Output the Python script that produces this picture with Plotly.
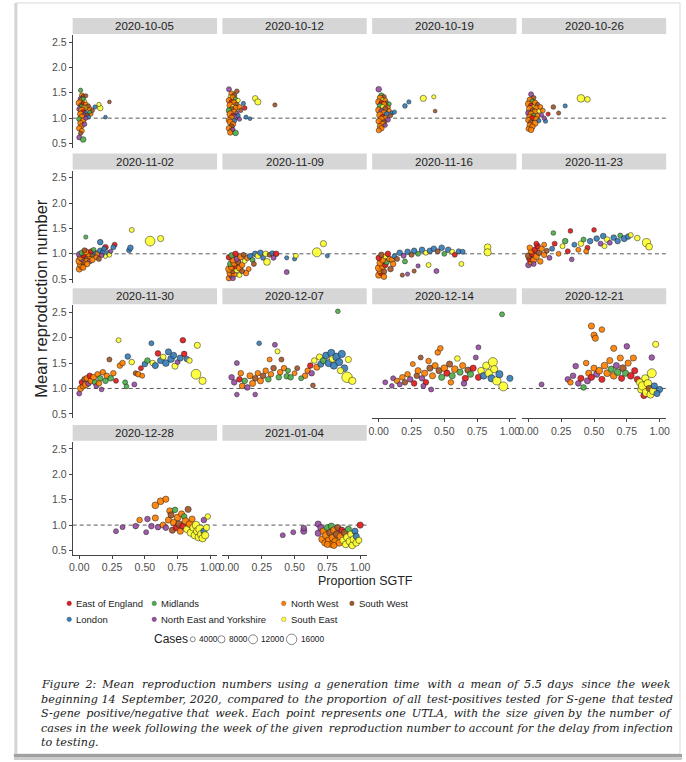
import math
import plotly.graph_objects as go

W, H = 686, 762
SANS = "Liberation Sans, Arial, sans-serif"
SERIF = "DejaVu Serif, serif"

# ---------------- data ----------------
weeks = ["2020-10-05", "2020-10-12", "2020-10-19", "2020-10-26",
         "2020-11-02", "2020-11-09", "2020-11-16", "2020-11-23",
         "2020-11-30", "2020-12-07", "2020-12-14", "2020-12-21",
         "2020-12-28", "2021-01-04"]

region_names = {"E": "East of England", "L": "London", "M": "Midlands",
                "N": "North East and Yorkshire", "W": "North West",
                "S": "South East", "B": "South West"}
region_colors = {"E": "#E41A1C", "L": "#377EB8", "M": "#4DAF4A", "N": "#984EA3",
                 "W": "#FF7F00", "S": "#FFFF33", "B": "#A65628"}

size_breaks = [4000, 8000, 12000, 16000]
x_tick_vals = [0.0, 0.25, 0.5, 0.75, 1.0]
x_tick_text = ["0.00", "0.25", "0.50", "0.75", "1.00"]
y_tick_vals = [0.5, 1.0, 1.5, 2.0, 2.5]
y_tick_text = ["0.5", "1.0", "1.5", "2.0", "2.5"]

# each point: (proportion SGTF, mean R, region code, cases in thousands)
w1005 = [(0.01,1.55,"M",3),(0.02,1.45,"W",4),(0.03,1.42,"B",3.6),(0.05,1.44,"B",3),(0.01,1.38,"N",4),
         (0.02,1.35,"W",5),(0.04,1.33,"S",3),(0.00,1.30,"W",6),(0.03,1.28,"E",4),(0.05,1.27,"W",4),
         (0.01,1.25,"B",3),(0.02,1.22,"M",5),(0.04,1.20,"W",6),(0.06,1.22,"S",3),(0.08,1.18,"W",4),
         (0.07,1.24,"B",3),(0.00,1.18,"N",4),(0.02,1.15,"W",7),(0.03,1.12,"E",4),(0.05,1.10,"L",3),
         (0.01,1.08,"W",6),(0.04,1.05,"N",5),(0.06,1.06,"B",3),(0.09,1.08,"W",3),(0.02,1.02,"W",6),
         (0.00,0.98,"M",4),(0.03,0.95,"W",5),(0.01,0.90,"W",5),(0.02,0.85,"W",4),(0.04,0.88,"N",3.6),
         (0.00,0.80,"W",5),(0.02,0.75,"W",4),(0.01,0.70,"B",3),(0.00,0.62,"N",4),(0.03,0.58,"M",5),
         (0.12,1.22,"L",3),(0.16,1.20,"S",5),(0.15,1.27,"S",3),(0.20,1.02,"L",2.4),(0.23,1.32,"B",2.4),
         (0.10,1.15,"B",3),(0.07,1.02,"L",3),(0.05,1.00,"N",3),(0.08,1.12,"M",2.4),(0.03,1.38,"M",3)]
w1012 = [(0.00,1.57,"N",4),(0.06,1.53,"B",3.6),(0.02,1.48,"W",5),(0.04,1.45,"B",4),(0.01,1.42,"S",3),
         (0.03,1.40,"W",6),(0.05,1.38,"M",3),(0.00,1.35,"W",5),(0.02,1.32,"E",4),(0.04,1.30,"W",6),
         (0.06,1.28,"B",3),(0.01,1.25,"W",7),(0.03,1.22,"S",4),(0.05,1.20,"W",5),(0.08,1.22,"W",4),
         (0.02,1.18,"B",4),(0.00,1.15,"M",5),(0.04,1.12,"W",6),(0.06,1.10,"N",3),(0.01,1.08,"W",7),
         (0.03,1.05,"E",4),(0.05,1.02,"N",5),(0.02,1.00,"W",6),(0.00,0.96,"W",5),(0.04,0.95,"L",4),
         (0.01,0.92,"W",6),(0.03,0.88,"W",5),(0.02,0.84,"B",4),(0.00,0.80,"W",5),(0.02,0.76,"W",4),
         (0.01,0.72,"W",5),(0.05,0.71,"M",5),(0.03,0.78,"N",3),(0.07,1.35,"S",3),(0.11,1.29,"L",3),
         (0.12,1.20,"E",3.6),(0.13,1.02,"L",3),(0.16,0.99,"L",2.4),(0.20,1.39,"S",5),(0.22,1.32,"S",6),
         (0.35,1.26,"B",3),(0.09,1.15,"B",3),(0.07,1.05,"L",3),(0.08,0.98,"N",3)]
w1019 = [(0.00,1.57,"N",5),(0.02,1.45,"M",4),(0.04,1.42,"B",3.6),(0.01,1.40,"W",5),(0.03,1.36,"S",3),
         (0.05,1.35,"W",4),(0.00,1.32,"W",6),(0.02,1.30,"E",4),(0.06,1.30,"B",3),(0.04,1.27,"W",5),
         (0.01,1.24,"M",5),(0.03,1.22,"S",4),(0.07,1.22,"W",4),(0.05,1.18,"B",5),(0.00,1.16,"W",6),
         (0.02,1.14,"N",4),(0.08,1.15,"W",3),(0.04,1.10,"W",6),(0.06,1.08,"L",4),(0.10,1.10,"L",3),
         (0.01,1.06,"W",7),(0.03,1.02,"E",5),(0.05,1.00,"W",5),(0.02,0.98,"W",6),(0.07,0.97,"N",4),
         (0.00,0.94,"W",5),(0.04,0.92,"B",4),(0.03,0.88,"W",6),(0.01,0.84,"W",5),(0.05,0.86,"N",3),
         (0.02,0.80,"W",5),(0.00,0.76,"W",4),(0.09,1.05,"B",3),(0.12,1.12,"L",3),(0.20,1.24,"L",3.6),
         (0.23,1.32,"L",3),(0.34,1.39,"S",6),(0.42,1.42,"S",3),(0.43,1.14,"B",2.4),(0.08,1.28,"M",3)]
w1026 = [(0.02,1.47,"N",4),(0.04,1.40,"B",3.6),(0.01,1.36,"W",5),(0.03,1.33,"M",4),(0.05,1.30,"W",5),
         (0.00,1.28,"W",6),(0.07,1.27,"B",3),(0.02,1.25,"E",4),(0.04,1.22,"S",3),(0.06,1.20,"W",5),
         (0.09,1.22,"W",4),(0.01,1.18,"W",7),(0.03,1.15,"B",4),(0.05,1.12,"W",6),(0.08,1.14,"S",3),
         (0.11,1.15,"W",3.6),(0.00,1.10,"N",5),(0.02,1.08,"W",6),(0.04,1.05,"M",4),(0.07,1.05,"W",4),
         (0.10,1.06,"N",3),(0.01,1.02,"W",6),(0.03,1.00,"E",5),(0.06,0.98,"W",5),(0.00,0.96,"W",5),
         (0.02,0.92,"B",4),(0.05,0.90,"W",6),(0.01,0.86,"W",5),(0.03,0.83,"W",5),(0.00,0.79,"W",4),
         (0.02,0.77,"W",5),(0.08,0.95,"L",3),(0.13,0.94,"L",3),(0.15,1.08,"E",3),(0.19,1.22,"B",3.6),
         (0.23,1.10,"B",3),(0.28,1.24,"L",3),(0.40,1.39,"S",9),(0.45,1.37,"S",5),(0.12,1.00,"N",3)]
w1102 = [(0.00,0.70,"W",6),(0.02,0.75,"W",6),(0.01,0.80,"W",7),(0.03,0.83,"B",5),(0.00,0.86,"W",7),
         (0.04,0.88,"W",6),(0.02,0.90,"N",5),(0.06,0.90,"W",6),(0.01,0.94,"W",7),(0.05,0.95,"B",4),
         (0.03,0.97,"E",5),(0.08,0.95,"W",5),(0.00,0.99,"N",5),(0.07,1.00,"W",6),(0.10,0.98,"B",4),
         (0.02,1.02,"M",5),(0.05,1.04,"W",6),(0.12,1.02,"L",4),(0.09,1.05,"E",4),(0.14,1.00,"W",4),
         (0.04,1.07,"B",4),(0.11,1.08,"M",3.6),(0.16,1.06,"L",5),(0.18,1.03,"L",4),(0.13,0.93,"W",4),
         (0.08,0.85,"N",4),(0.20,0.95,"S",3),(0.17,0.97,"N",3.6),(0.22,1.02,"L",3.6),(0.06,0.80,"W",5),
         (0.10,0.88,"W",5),(0.15,0.90,"B",4),(0.05,1.33,"M",3),(0.16,1.23,"L",5),(0.20,1.13,"E",5),
         (0.27,1.18,"E",4),(0.26,1.13,"L",4),(0.19,1.10,"L",4),(0.38,1.07,"L",4),(0.39,1.12,"L",5),
         (0.40,1.47,"S",4),(0.54,1.25,"S",14),(0.62,1.30,"S",6),(0.23,0.98,"S",3.6),(0.24,1.05,"N",3),
         (0.03,0.73,"W",5)]
w1109 = [(0.00,0.52,"W",5),(0.02,0.57,"N",5),(0.01,0.62,"W",7),(0.04,0.60,"W",6),(0.03,0.66,"B",5),
         (0.00,0.70,"W",7),(0.06,0.68,"S",5),(0.02,0.74,"W",6),(0.05,0.76,"E",5),(0.08,0.72,"W",6),
         (0.01,0.80,"M",5),(0.04,0.82,"W",7),(0.07,0.84,"B",5),(0.10,0.78,"W",5),(0.03,0.88,"W",6),
         (0.06,0.90,"N",5),(0.12,0.86,"S",4),(0.00,0.93,"E",5),(0.09,0.94,"W",6),(0.02,0.97,"M",5),
         (0.05,1.00,"E",5),(0.14,0.92,"W",5),(0.11,0.98,"B",4),(0.16,0.95,"L",5),(0.18,0.88,"M",4),
         (0.20,1.00,"L",5),(0.22,0.96,"S",5),(0.24,1.02,"L",5),(0.26,0.92,"L",4),(0.28,1.00,"S",5),
         (0.29,0.84,"S",7),(0.31,0.98,"B",4),(0.33,1.01,"L",4),(0.36,1.00,"E",5),(0.34,0.92,"N",4),
         (0.15,0.70,"W",4),(0.13,0.62,"W",5),(0.08,0.58,"S",4),(0.19,0.80,"B",4),(0.44,0.64,"N",4),
         (0.44,0.92,"L",3),(0.50,0.90,"L",3),(0.51,0.96,"S",4),(0.67,1.03,"S",12),(0.72,1.20,"S",6),
         (0.75,0.96,"L",3),(0.10,0.66,"B",4),(0.03,0.52,"N",4)]
w1116 = [(0.00,0.58,"W",6),(0.02,0.62,"E",5),(0.01,0.67,"W",6),(0.04,0.65,"B",5),(0.00,0.72,"W",7),
         (0.03,0.75,"W",6),(0.05,0.78,"E",5),(0.01,0.82,"W",6),(0.06,0.84,"M",5),(0.03,0.88,"W",6),
         (0.08,0.90,"W",5),(0.00,0.92,"E",5),(0.05,0.95,"S",4),(0.02,0.98,"B",5),(0.07,1.00,"E",5),
         (0.10,0.88,"W",5),(0.12,0.95,"L",4),(0.11,0.80,"W",5),(0.14,0.90,"B",4),(0.16,1.02,"L",5),
         (0.19,0.96,"N",4),(0.22,1.04,"L",5),(0.25,0.98,"B",4),(0.27,1.06,"L",5),(0.30,1.00,"M",4),
         (0.33,1.08,"L",5),(0.36,1.02,"S",4),(0.39,1.06,"L",5),(0.42,1.10,"L",5),(0.45,1.05,"B",4),
         (0.48,1.12,"L",5),(0.50,1.00,"M",4),(0.53,1.08,"L",5),(0.56,1.04,"S",4),(0.58,0.98,"E",4),
         (0.61,1.05,"L",4),(0.64,1.04,"L",4),(0.63,0.80,"S",4),(0.44,0.66,"N",4),(0.38,0.78,"S",4),
         (0.30,0.76,"N",3),(0.27,0.66,"B",3),(0.18,0.58,"B",3),(0.22,0.60,"N",3),(0.83,1.13,"S",7),
         (0.83,1.03,"S",8),(0.09,0.70,"B",5),(0.04,0.55,"W",5),(0.20,0.85,"M",4)]
w1123 = [(0.00,0.78,"N",5),(0.02,0.84,"W",6),(0.01,0.90,"E",6),(0.04,0.88,"W",6),(0.00,0.96,"B",6),
         (0.03,1.00,"E",6),(0.06,0.95,"W",6),(0.02,1.05,"W",5),(0.05,1.08,"E",5),(0.08,1.02,"B",5),
         (0.01,1.12,"W",5),(0.07,1.15,"E",5),(0.10,1.10,"W",5),(0.12,0.98,"W",5),(0.14,1.06,"B",4),
         (0.04,0.80,"N",4),(0.09,0.85,"W",5),(0.16,0.92,"N",4),(0.19,1.41,"M",3.6),(0.18,1.10,"L",4),
         (0.20,1.20,"E",4),(0.23,1.00,"W",4),(0.26,1.15,"S",4),(0.28,1.25,"M",5),(0.30,1.05,"E",4),
         (0.32,1.45,"E",3.6),(0.33,0.89,"N",3.6),(0.35,1.18,"L",4),(0.38,1.08,"W",4),(0.40,1.20,"S",5),
         (0.42,1.28,"M",4),(0.45,1.12,"E",4),(0.47,1.25,"L",5),(0.50,1.47,"E",3.6),(0.52,1.30,"L",5),
         (0.55,1.20,"N",4),(0.57,1.35,"L",5),(0.60,1.28,"S",5),(0.62,1.22,"N",4),(0.65,1.32,"L",5),
         (0.68,1.25,"L",5),(0.70,1.36,"M",4),(0.73,1.30,"L",6),(0.76,1.34,"L",5),(0.78,1.37,"S",4),
         (0.83,1.31,"S",5),(0.90,1.22,"S",10),(0.92,1.14,"S",7),(0.58,1.15,"S",4),(0.44,1.05,"W",4),
         (0.12,1.18,"W",4),(0.06,1.20,"E",4)]
w1130 = [(0.00,0.90,"N",4),(0.01,1.00,"W",6),(0.03,1.05,"W",6),(0.02,1.12,"E",5),(0.05,1.08,"W",7),
         (0.04,1.18,"B",5),(0.07,1.10,"N",5),(0.06,1.20,"W",6),(0.09,1.15,"W",6),(0.08,1.25,"E",5),
         (0.11,1.22,"W",6),(0.12,1.12,"M",5),(0.14,1.28,"W",5),(0.13,1.05,"N",4),(0.16,1.20,"M",5),
         (0.17,0.98,"N",3.6),(0.18,1.32,"W",5),(0.20,1.15,"M",5),(0.21,1.25,"W",5),(0.23,1.57,"B",4),
         (0.24,1.20,"M",5),(0.26,1.30,"W",5),(0.28,1.15,"E",4),(0.30,1.95,"S",4),(0.31,1.45,"W",5),
         (0.33,1.50,"W",5),(0.35,1.12,"M",4),(0.36,1.04,"M",3.6),(0.37,1.63,"L",5),(0.40,1.52,"S",5),
         (0.42,1.08,"N",4),(0.43,1.30,"B",4),(0.45,1.28,"W",5),(0.47,1.40,"E",4),(0.50,1.48,"L",5),
         (0.52,1.55,"M",5),(0.55,1.89,"L",4),(0.56,1.50,"S",5),(0.58,1.45,"L",6),(0.60,1.69,"E",5),
         (0.62,1.55,"L",6),(0.64,1.62,"S",5),(0.66,1.50,"L",7),(0.68,1.72,"L",6),(0.70,1.58,"L",7),
         (0.72,1.65,"L",6),(0.73,1.44,"S",6),(0.75,1.52,"N",4),(0.77,1.60,"L",6),(0.79,1.95,"E",5),
         (0.80,1.68,"E",5),(0.82,1.58,"L",5),(0.84,1.55,"S",5),(0.90,1.85,"S",6),(0.89,1.28,"S",14),
         (0.94,1.15,"S",8),(0.48,1.25,"W",4),(0.15,1.10,"W",5)]
w1207 = [(0.06,1.50,"N",4),(0.06,0.88,"N",3.6),(0.02,1.22,"N",5),(0.04,1.12,"N",5),(0.08,1.18,"E",5),
         (0.10,1.05,"W",5),(0.12,1.15,"M",5),(0.14,1.02,"N",5),(0.16,1.25,"W",6),(0.18,1.10,"W",6),
         (0.20,0.88,"N",3.6),(0.20,1.20,"B",5),(0.22,1.30,"W",5),(0.23,1.89,"L",3.6),(0.24,1.15,"W",6),
         (0.26,1.25,"B",5),(0.28,1.35,"W",5),(0.30,1.18,"M",5),(0.31,1.57,"W",4),(0.32,1.28,"W",5),
         (0.34,1.40,"B",5),(0.35,1.86,"N",4),(0.37,1.73,"S",4),(0.38,1.22,"M",5),(0.39,1.32,"W",5),
         (0.40,1.57,"B",4),(0.42,1.40,"W",5),(0.44,1.24,"M",5),(0.45,1.35,"M",4),(0.47,1.22,"M",5),
         (0.50,1.30,"W",4),(0.52,1.40,"B",4),(0.60,1.35,"W",5),(0.62,1.45,"E",5),(0.64,1.06,"B",3.6),
         (0.63,1.30,"N",5),(0.65,1.55,"S",5),(0.67,1.42,"W",6),(0.69,1.62,"S",6),(0.70,1.48,"L",6),
         (0.72,1.55,"M",6),(0.74,1.65,"L",7),(0.76,1.50,"L",8),(0.78,1.70,"L",8),(0.79,1.58,"S",7),
         (0.80,1.45,"L",8),(0.82,1.62,"L",9),(0.83,2.52,"M",3.6),(0.84,1.52,"L",8),(0.86,1.68,"L",8),
         (0.88,1.40,"L",7),(0.90,1.22,"S",16),(0.91,1.57,"S",6),(0.94,1.15,"S",8),(0.85,1.35,"S",6),
         (0.58,1.25,"W",5),(0.55,1.20,"M",4),(0.09,1.30,"W",5)]
w1214 = [(0.05,1.12,"N",4),(0.10,1.05,"N",3.6),(0.11,1.20,"N",4),(0.14,1.15,"W",5),(0.16,1.08,"N",4),
         (0.18,1.22,"W",5),(0.20,1.12,"B",5),(0.22,1.28,"W",5),(0.24,1.18,"N",5),(0.26,1.48,"W",4),
         (0.27,1.10,"E",5),(0.29,1.25,"B",5),(0.30,1.35,"W",6),(0.32,1.61,"B",4),(0.33,1.20,"N",5),
         (0.35,1.30,"W",6),(0.36,1.12,"E",5),(0.38,1.54,"W",5),(0.39,1.40,"B",6),(0.40,0.98,"N",4),
         (0.41,1.25,"W",6),(0.43,1.45,"W",6),(0.45,1.71,"W",5),(0.46,1.35,"B",6),(0.47,1.79,"W",5),
         (0.48,1.22,"M",6),(0.50,1.40,"W",7),(0.52,1.30,"E",6),(0.54,1.48,"B",6),(0.56,1.25,"M",6),
         (0.58,1.38,"W",7),(0.60,1.59,"S",5),(0.62,1.32,"M",6),(0.64,1.45,"W",6),(0.66,1.20,"E",6),
         (0.68,1.36,"B",6),(0.70,1.28,"M",6),(0.72,1.40,"E",6),(0.74,1.61,"N",4),(0.76,1.81,"N",4),
         (0.76,1.22,"E",6),(0.78,1.35,"S",7),(0.80,1.25,"L",7),(0.82,1.45,"S",8),(0.84,1.30,"S",9),
         (0.86,1.20,"L",8),(0.87,1.52,"S",12),(0.88,1.38,"S",8),(0.90,1.15,"S",10),(0.92,1.28,"L",8),
         (0.94,2.46,"M",4),(0.95,1.04,"S",12),(1.00,1.20,"L",6),(0.55,1.12,"W",5),(0.65,1.10,"N",5),
         (0.34,1.05,"N",4)]
w1221 = [(0.10,1.08,"N",4),(0.30,1.18,"N",5),(0.32,1.12,"W",5),(0.34,1.25,"N",5),(0.36,1.44,"N",5),
         (0.38,1.10,"N",5),(0.40,1.20,"E",6),(0.42,1.02,"M",5),(0.44,1.50,"W",5),(0.45,1.15,"N",6),
         (0.46,1.30,"W",6),(0.48,2.23,"W",6),(0.48,1.22,"E",6),(0.50,2.05,"W",6),(0.51,1.99,"W",6),
         (0.50,1.40,"W",6),(0.52,1.28,"N",6),(0.54,1.35,"W",7),(0.56,2.16,"W",5),(0.56,1.18,"E",6),
         (0.58,1.45,"W",7),(0.60,1.30,"W",7),(0.62,1.55,"W",6),(0.63,1.38,"M",6),(0.65,1.79,"W",6),
         (0.65,1.25,"W",7),(0.67,1.45,"N",6),(0.68,1.32,"M",7),(0.70,1.60,"W",6),(0.71,1.20,"E",6),
         (0.72,1.40,"B",7),(0.74,1.30,"M",6),(0.75,1.83,"N",5),(0.76,1.50,"W",6),(0.78,1.25,"E",7),
         (0.80,1.60,"W",6),(0.81,1.35,"E",6),(0.83,1.18,"E",6),(0.85,1.12,"S",8),(0.86,0.98,"S",8),
         (0.87,1.05,"S",10),(0.88,0.86,"E",6),(0.89,1.20,"S",8),(0.90,0.92,"S",10),(0.91,1.10,"S",9),
         (0.92,1.00,"B",6),(0.93,0.88,"S",8),(0.94,1.61,"N",5),(0.94,1.30,"S",12),(0.95,0.95,"S",8),
         (0.97,1.87,"S",6),(0.96,1.05,"L",6),(1.00,0.98,"L",6),(0.98,0.90,"L",6)]
w1228 = [(0.28,0.88,"N",4),(0.33,0.96,"N",4),(0.43,0.98,"N",5),(0.46,1.10,"W",5),(0.51,0.86,"N",4),
         (0.52,1.12,"N",5),(0.55,0.98,"N",5),(0.58,1.39,"W",7),(0.58,1.14,"W",6),(0.60,0.96,"N",5),
         (0.62,1.47,"W",7),(0.64,1.00,"W",6),(0.66,1.51,"W",6),(0.66,0.95,"N",5),(0.68,1.10,"W",6),
         (0.69,1.28,"W",6),(0.70,1.20,"B",6),(0.71,0.90,"B",6),(0.72,1.05,"W",7),(0.73,1.30,"M",5),
         (0.74,0.95,"E",6),(0.75,1.15,"W",7),(0.76,1.02,"B",7),(0.77,0.88,"W",6),(0.78,1.22,"W",6),
         (0.79,0.98,"E",6),(0.80,1.17,"M",5),(0.81,1.08,"W",7),(0.82,0.92,"S",7),(0.83,1.31,"B",6),
         (0.84,1.02,"W",7),(0.85,0.85,"S",8),(0.86,1.12,"W",6),(0.87,0.95,"S",8),(0.88,0.80,"S",8),
         (0.89,1.00,"S",9),(0.90,0.88,"S",9),(0.91,0.76,"S",8),(0.92,0.92,"S",10),(0.93,0.82,"S",9),
         (0.94,0.74,"S",8),(0.95,0.88,"L",6),(0.95,1.10,"N",5),(0.96,0.80,"S",8),(0.98,1.17,"S",5),
         (0.97,0.95,"S",6)]
w0104 = [(0.41,0.80,"N",4),(0.49,0.86,"N",4),(0.57,0.88,"N",6),(0.57,0.94,"N",5),(0.68,1.02,"N",6),
         (0.68,0.84,"N",6),(0.70,0.95,"N",6),(0.71,0.72,"W",7),(0.72,0.88,"W",7),(0.73,0.65,"W",6),
         (0.74,0.80,"W",8),(0.75,0.95,"M",6),(0.76,0.70,"W",7),(0.77,0.85,"B",7),(0.78,0.62,"W",6),
         (0.78,0.98,"M",6),(0.79,0.75,"W",8),(0.80,0.90,"W",7),(0.81,0.68,"W",7),(0.82,0.82,"B",7),
         (0.83,0.95,"B",6),(0.84,0.65,"W",7),(0.85,0.78,"W",8),(0.86,0.90,"E",6),(0.87,0.70,"S",7),
         (0.88,0.85,"B",7),(0.89,0.62,"S",7),(0.90,0.76,"S",8),(0.91,0.92,"M",6),(0.92,0.68,"S",8),
         (0.93,0.82,"S",7),(0.94,0.60,"S",7),(0.95,0.72,"S",8),(0.96,0.88,"L",6),(0.97,0.65,"S",7),
         (0.97,0.78,"L",6),(1.00,1.00,"E",6),(0.99,0.70,"S",6),(0.75,0.62,"W",6),(0.80,0.60,"W",6)]

week_points = [w1005, w1012, w1019, w1026, w1102, w1109, w1116, w1123,
               w1130, w1207, w1214, w1221, w1228, w0104]

caption_lines = [
    "Figure 2: Mean reproduction numbers using a generation time with a mean of 5.5 days since the week",
    "beginning 14 September, 2020, compared to the proportion of all test-positives tested for S-gene that tested",
    "S-gene positive/negative that week. Each point represents one UTLA, with the size given by the number of",
    "cases in the week following the week of the given reproduction number to account for the delay from infection",
    "to testing.",
]

# ---------------- layout geometry (pixels) ----------------
COL_L = [69.5, 221.0, 372.5, 524.0]
PANEL_W = 146.0
ROW_T = [35.0, 171.0, 306.0, 443.0]
PANEL_H = 113.0
STRIP_H = 16.0
X_RANGE = [-0.05, 1.05]
Y_RANGE = [0.42, 2.64]
BOTTOM_PANELS = {10, 11, 12, 13}


def px(xp):
    return xp / W


def py(yp):
    return 1 - yp / H


def size_px(cases):
    return max(2.5, -0.5 + 0.0869 * math.sqrt(cases))


def justify(text, n_extra):
    """spread n_extra thin spaces over the word gaps of a caption line"""
    words = text.split(" ")
    gaps = len(words) - 1
    out = words[0]
    for k in range(gaps):
        e = round((k + 1) * n_extra / gaps) - round(k * n_extra / gaps)
        out += " " + "\u2009" * e + words[k + 1]
    return out


fig = go.Figure()
shapes = []
annotations = []
layout_axes = {}

for i, (label, pts) in enumerate(zip(weeks, week_points)):
    r, c = divmod(i, 4)
    n = "" if i == 0 else str(i + 1)
    xs = [p[0] for p in pts]
    ys = [p[1] for p in pts]
    cols = [region_colors[p[2]] for p in pts]
    sizes = [size_px(p[3] * 1000) for p in pts]
    fig.add_trace(go.Scatter(
        x=xs, y=ys, mode="markers", xaxis="x" + n, yaxis="y" + n,
        marker=dict(size=sizes, color=cols, opacity=0.92,
                    line=dict(width=0.6, color="rgba(25,25,25,0.9)")),
        showlegend=False, hoverinfo="skip"))

    bottom = i in BOTTOM_PANELS
    left = c == 0
    x0 = px(COL_L[c]); x1 = px(COL_L[c] + PANEL_W)
    y1 = py(ROW_T[r]); y0 = py(ROW_T[r] + PANEL_H)
    layout_axes["xaxis" + n] = dict(
        domain=[x0, x1], range=X_RANGE, anchor="y" + n, showgrid=False, zeroline=False,
        showline=bottom, linecolor="#444", linewidth=1, mirror=False,
        ticks="outside" if bottom else "", ticklen=3, tickcolor="#444", tickwidth=1,
        tickvals=x_tick_vals, ticktext=x_tick_text, showticklabels=bottom,
        tickfont=dict(family=SANS, size=10.5, color="#4d4d4d"), fixedrange=True)
    layout_axes["yaxis" + n] = dict(
        domain=[y0, y1], range=Y_RANGE, anchor="x" + n, showgrid=False, zeroline=False,
        showline=left, linecolor="#444", linewidth=1,
        ticks="outside" if left else "", ticklen=3, tickcolor="#444", tickwidth=1,
        tickvals=y_tick_vals, ticktext=y_tick_text, showticklabels=left,
        tickfont=dict(family=SANS, size=10.5, color="#4d4d4d"), fixedrange=True)

    xd = "x" + n + " domain"
    yd = "y" + n + " domain"
    shapes.append(dict(type="line", xref=xd, yref="y" + n, x0=0, x1=1, y0=1, y1=1,
                       line=dict(color="#5a5a5a", width=1, dash="4px,3px"), layer="below"))
    shapes.append(dict(type="rect", xref=xd, yref=yd, x0=0, x1=1,
                       y0=1 + 1 / PANEL_H, y1=1 + (1 + STRIP_H) / PANEL_H,
                       fillcolor="#D6D6D6", line=dict(width=0), layer="below"))
    annotations.append(dict(xref=xd, yref=yd, x=0.5, y=1 + (1 + STRIP_H / 2) / PANEL_H,
                            text=label, showarrow=False, xanchor="center", yanchor="middle",
                            font=dict(family=SANS, size=11.5, color="#222")))

# axis titles
annotations.append(dict(xref="paper", yref="paper", x=px(366), y=py(583), text="Proportion SGTF",
                        showarrow=False, xanchor="center", yanchor="middle",
                        font=dict(family=SANS, size=12.5, color="#222")))
annotations.append(dict(xref="paper", yref="paper", x=px(38), y=py(299), text="Mean reproduction number",
                        showarrow=False, textangle=-90, xanchor="center", yanchor="middle",
                        font=dict(family=SANS, size=16.5, color="#222")))

# ---------------- legends (drawn as keys) ----------------
LEG_FONT = 9.5
leg_cols_x = [66, 152, 283, 352]
leg_rows_y = [605, 621]
legend_layout = [["E", "L"], ["M", "N"], ["W", "S"], ["B"]]
for ci, col in enumerate(legend_layout):
    for ri, code in enumerate(col):
        cx, cy = leg_cols_x[ci], leg_rows_y[ri]
        rr = 2.3
        shapes.append(dict(type="circle", xref="paper", yref="paper",
                           x0=px(cx - rr), x1=px(cx + rr), y0=py(cy + rr), y1=py(cy - rr),
                           fillcolor=region_colors[code], line=dict(width=0.3, color="#333")))
        annotations.append(dict(xref="paper", yref="paper", x=px(cx + 5), y=py(cy),
                                text=region_names[code], showarrow=False,
                                xanchor="left", yanchor="middle",
                                font=dict(family=SANS, size=LEG_FONT, color="#222")))

cases_y = 641
annotations.append(dict(xref="paper", yref="paper", x=px(150), y=py(cases_y), text="Cases",
                        showarrow=False, xanchor="left", yanchor="middle",
                        font=dict(family=SANS, size=12, color="#222")))
key_cx = [191, 220, 252, 291]
for b, kx in zip(size_breaks, key_cx):
    rr = size_px(b) / 2
    shapes.append(dict(type="circle", xref="paper", yref="paper",
                       x0=px(kx - rr), x1=px(kx + rr), y0=py(cases_y + rr), y1=py(cases_y - rr),
                       fillcolor="white", line=dict(width=0.8, color="#666")))
    annotations.append(dict(xref="paper", yref="paper", x=px(kx + rr + 2), y=py(cases_y),
                            text=str(b), showarrow=False, xanchor="left", yanchor="middle",
                            font=dict(family=SANS, size=8.3, color="#222")))

# ---------------- caption ----------------
cap_y = [686, 701, 715.5, 730, 744]
cap_extra = [20, 7, 10, 1, 0]
for t, yv, ex in zip(caption_lines, cap_y, cap_extra):
    annotations.append(dict(xref="paper", yref="paper", x=px(35), y=py(yv),
                            text="<i>" + justify(t, ex) + "</i>",
                            showarrow=False, xanchor="left", yanchor="middle",
                            font=dict(family=SERIF, size=11.2, color="#222")))

# ---------------- page frame ----------------
shapes.append(dict(type="rect", xref="paper", yref="paper", x0=px(12), x1=px(684), y0=py(756), y1=py(3),
                   line=dict(color="#dadada", width=1), fillcolor="rgba(0,0,0,0)", layer="below"))
shapes.append(dict(type="line", xref="paper", yref="paper", x0=px(12), x1=px(12), y0=py(756), y1=py(3),
                   line=dict(color="#d4d4d4", width=3)))
shapes.append(dict(type="rect", xref="paper", yref="paper", x0=px(10), x1=px(686), y0=py(759), y1=py(756),
                   fillcolor="#a0a0a0", line=dict(width=0)))
shapes.append(dict(type="rect", xref="paper", yref="paper", x0=px(10), x1=px(686), y0=py(762), y1=py(759),
                   fillcolor="#cccccc", line=dict(width=0)))

fig.update_layout(
    width=W, height=H, margin=dict(l=0, r=0, t=0, b=0),
    paper_bgcolor="white", plot_bgcolor="white", showlegend=False,
    shapes=shapes, annotations=annotations, **layout_axes)

fig.write_html("out.html", include_plotlyjs=True, config={"displayModeBar": False},
               post_script="document.body.style.margin='0px';")
